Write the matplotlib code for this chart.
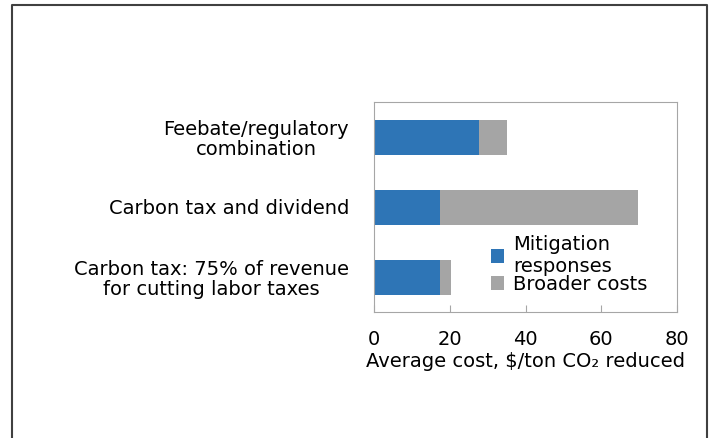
import matplotlib.pyplot as plt
from matplotlib.lines import Line2D

plt.rcParams['font.family'] = ['DejaVu Sans']

categories = ["Feebate/regulatory\ncombination",
              "Carbon tax and dividend",
              "Carbon tax: 75% of revenue\nfor cutting labor taxes"]
mitigation = [27.7, 17.4, 17.4]
broader = [7.3, 52.2, 2.9]

BLUE = '#2E75B6'
GRAY = '#A5A5A5'

fig = plt.figure(figsize=(7.13, 4.38), dpi=100)
ax = fig.add_axes([374/713, 1-312/438, 303/713, 210/438])

y = [2, 1, 0]
ax.barh(y, mitigation, height=0.5, color=BLUE, label="Mitigation\nresponses")
ax.barh(y, broader, left=mitigation, height=0.5, color=GRAY, label="Broader costs")

ax.set_xlim(0, 80)
ax.set_ylim(-0.5, 2.5)
ax.set_xticks([0, 20, 40, 60, 80])
ax.set_yticks(y)
ax.set_yticklabels(categories, multialignment='center', fontsize=14, linespacing=1.05)
ax.tick_params(axis='y', length=0, pad=18)
ax.tick_params(axis='x', direction='in', length=5, color='#a6a6a6', labelsize=14, pad=13)
ax.set_xlabel("Average cost, $/ton CO\u2082 reduced", fontsize=14, labelpad=2)
for s in ax.spines.values():
    s.set_color('#a6a6a6')

ax.legend(loc='lower left', bbox_to_anchor=(0.36, 0.05), frameon=False, fontsize=14,
          handlelength=0.7, handleheight=0.7, handletextpad=0.45, labelspacing=-0.05,
          borderaxespad=0)

# outer frame (no bottom edge)
fig.add_artist(Line2D([12/713, 12/713, 707/713, 707/713], [0, 1-5/438, 1-5/438, 0],
                      color='#404040', lw=1.5, transform=fig.transFigure))

fig.savefig("out.png", dpi=100)
